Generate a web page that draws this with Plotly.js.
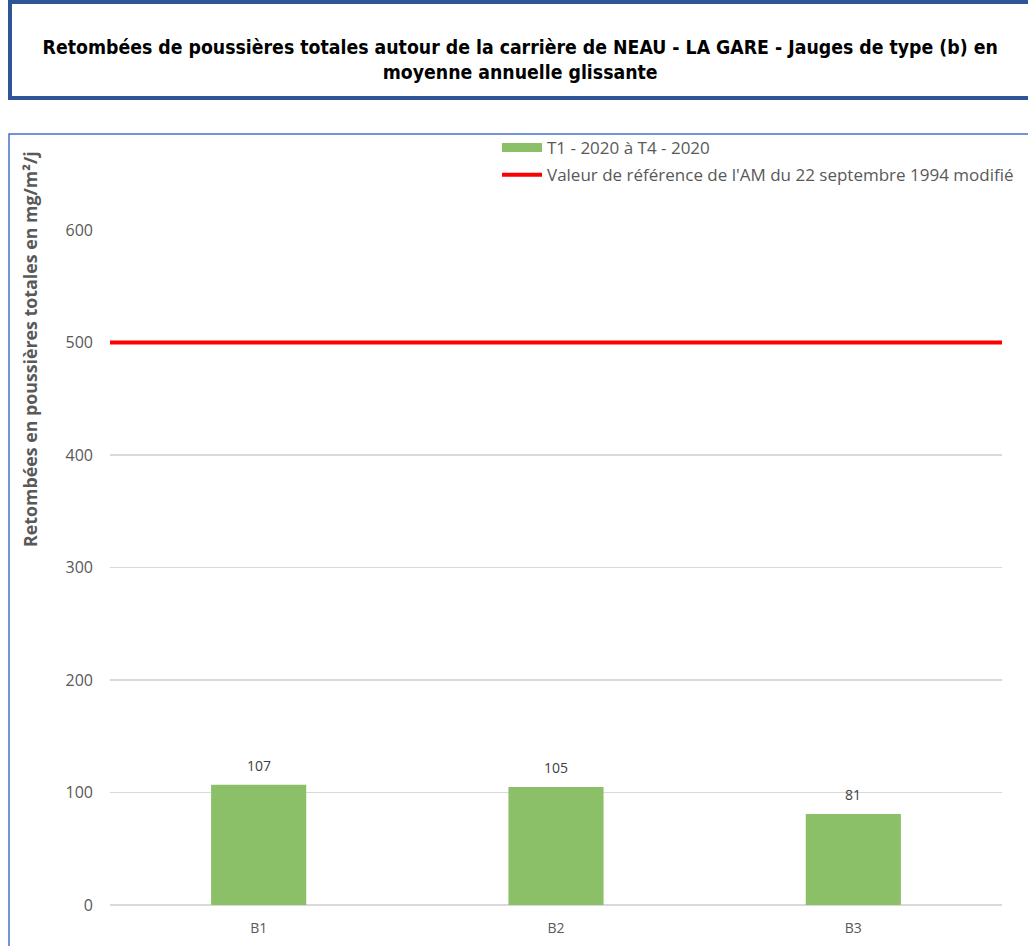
<!DOCTYPE html>
<html><head><meta charset="utf-8">
<script src="https://cdn.plot.ly/plotly-3.0.1.min.js"></script>
<style>html,body{margin:0;padding:0;background:#fff;}#chart{width:1028px;height:946px;}</style>
</head><body><div id="chart"></div>
<script>
const categories = ["B1", "B2", "B3"];
const values = [107, 105, 81];
const seriesName = "T1 - 2020 à T4 - 2020";
const refName = "Valeur de référence de l'AM du 22 septembre 1994 modifié";
const refX = [0, 1];
const refValue = [500, 500];
const yTicks = [0, 100, 200, 300, 400, 500, 600];

const W = 1028, H = 946, L = 110, R = 26, T = 230, B = 41;
const pw = W - L - R, ph = H - T - B;
const px = x => (x - L) / pw;
const py = y => (H - B - y) / ph;

const green = '#8CC068';
const traces = [
  {type: 'bar', x: categories, y: values, name: seriesName, width: 0.32,
   marker: {color: green}, showlegend: false},
  // legend swatch for the bar series (wide rectangle like the original)
  {type: 'scatter', mode: 'lines', x: [null], y: [null], name: seriesName,
   line: {color: green, width: 9}, legendgroup: 'a', hoverinfo: 'skip'},
  {type: 'scatter', mode: 'lines', x: refX, y: refValue, xaxis: 'x2', name: refName,
   line: {color: '#FF0000', width: 4}, legendgroup: 'b'}
];

const annotations = categories.map((c, i) => ({
  x: c, y: values[i], xref: 'x', yref: 'y', text: String(values[i]), showarrow: false,
  yanchor: 'bottom', yshift: 8,
  font: {family: 'Open Sans, sans-serif', size: 14, color: '#404040'}
}));
annotations.push({text: 'Retombées en poussières totales en mg/m²/j', textangle: -90, showarrow: false,
  xref: 'paper', yref: 'paper', x: px(30), y: py(349), xanchor: 'center', yanchor: 'middle',
  font: {family: 'Open Sans, sans-serif', size: 17.8, color: '#595959', weight: 'bold'}});

const layout = {
  width: W, height: H,
  margin: {l: L, r: R, t: T, b: B, autoexpand: false},
  paper_bgcolor: '#fff', plot_bgcolor: '#fff',
  font: {family: 'Open Sans, sans-serif', color: '#595959'},
  title: {text: 'Retombées de poussières totales autour de la carrière de NEAU - LA GARE - Jauges de type (b) en<br>moyenne annuelle glissante',
    font: {family: 'DejaVu Sans Condensed, DejaVu Sans, sans-serif', size: 19.3, color: '#000', weight: 'bold'},
    x: 0.506, xanchor: 'center', xref: 'container', y: 1 - 54/946, yref: 'container', yanchor: 'middle'},
  xaxis: {type: 'category', showgrid: false, zeroline: false, showline: false, ticks: '',
    tickfont: {size: 14, color: '#595959'}, range: [-0.5, 2.5], ticklabelstandoff: 13},
  xaxis2: {overlaying: 'x', range: [0, 1], visible: false, fixedrange: true},
  yaxis: {range: [0, 600], tickvals: yTicks, showgrid: true, gridcolor: '#D9D9D9', gridwidth: 1.3,
    zeroline: true, zerolinecolor: '#D9D9D9', zerolinewidth: 1.3, showline: false, ticks: '',
    tickfont: {size: 16, color: '#595959'}, ticklabelstandoff: 16},
  showlegend: true,
  legend: {x: px(497), y: py(130), xanchor: 'left', yanchor: 'top', font: {size: 17, color: '#595959'},
    bgcolor: 'rgba(0,0,0,0)', tracegroupgap: 2, itemwidth: 40, traceorder: 'grouped'},
  annotations: annotations,
  shapes: [
    {type: 'rect', xref: 'paper', yref: 'paper', x0: px(10), x1: px(1045), y0: py(98), y1: py(2),
     line: {color: '#2F5597', width: 4}, fillcolor: 'rgba(0,0,0,0)', layer: 'above'},
    {type: 'rect', xref: 'paper', yref: 'paper', x0: px(9), x1: px(1045), y0: py(960), y1: py(134),
     line: {color: '#4472C4', width: 1.5}, fillcolor: 'rgba(0,0,0,0)', layer: 'below'}
  ]
};
Plotly.newPlot('chart', traces, layout, {staticPlot: true});
</script></body></html>
